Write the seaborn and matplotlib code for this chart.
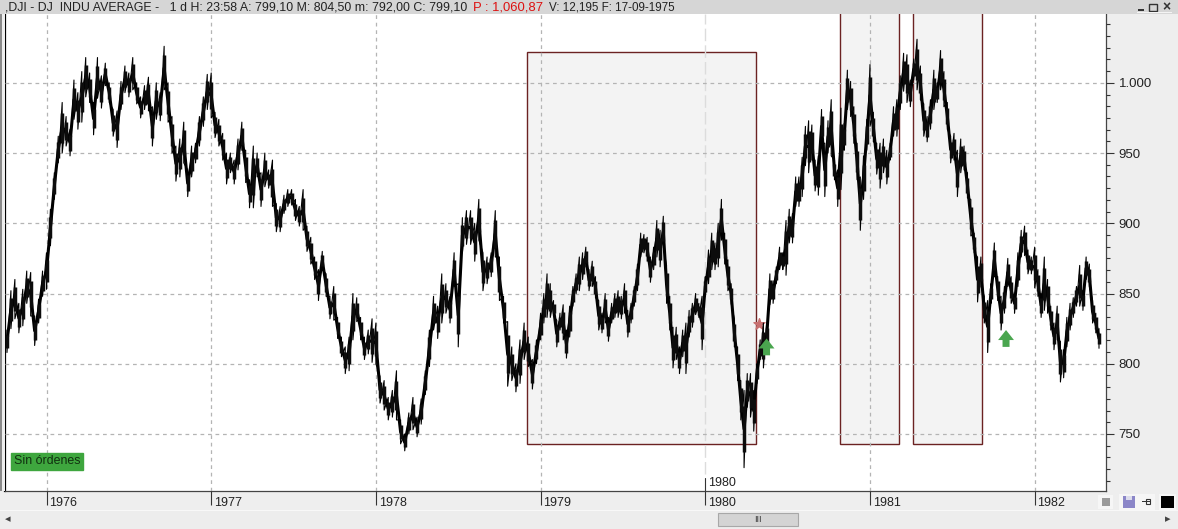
import numpy as np
import pandas as pd
import matplotlib
matplotlib.use("Agg")
import matplotlib.pyplot as plt
import seaborn as sns
from matplotlib.patches import Rectangle
from matplotlib.ticker import AutoMinorLocator
from matplotlib.transforms import ScaledTranslation

# highs and lows, one list per calendar year
high_1975 = [824,852,860,843,853,866,865,834,846,866]
low_1975 = [808,825,832,822,827,843,834,813,829,848]
high_1976 = [879,910,936,962,986,976,967,1002,993,1008,1018,1007,986,1018,1005,1014,1000,981,980,1001,1012,1007,1018,1000,990,998,1004,983,1000,993,1026,1000,976,955,960,972,938,955,957,976,990,1006]
low_1976 = [853,884,917,943,950,955,948,974,967,972,990,986,963,989,982,998,986,962,954,981,993,990,995,985,975,981,980,955,974,973,995,972,950,930,933,943,919,933,943,955,969,981]
high_1977 = [1007,979,974,964,950,950,945,960,972,952,931,955,950,936,950,938,945,914,912,920,924,924,917,912,924,898,890,876,867,880,864,848,855,833,819,812,819,850,847,833,819,824,832]
low_1977 = [975,961,955,945,928,936,928,938,952,929,911,911,933,912,926,925,912,894,894,907,912,913,902,898,895,880,871,860,845,867,848,832,831,818,805,793,795,817,830,817,803,807,801]
high_1978 = [829,791,788,776,781,795,760,750,765,776,762,775,795,824,848,841,864,857,848,879,857,904,909,909,900,917,879,876,879,909,876,848,830,812,800,817,829,819,803,817]
low_1978 = [800,772,767,760,762,760,743,738,750,753,748,757,778,798,824,818,829,836,829,855,812,879,885,885,873,888,852,857,862,876,845,829,784,788,780,786,803,798,782,800]
high_1979 = [836,850,864,857,845,831,836,842,824,841,855,864,876,879,883,867,873,862,845,836,850,833,843,850,852,848,857,838,843,855,871,893,892,890,876,883,902,895,905,870,848,826,826,812,824,829,838,843,850,843,848]
low_1979 = [817,829,833,833,834,812,824,817,804,819,841,850,852,860,869,852,855,847,824,822,829,816,829,833,833,832,836,819,829,841,852,876,879,873,858,867,876,869,883,843,824,797,803,793,805,793,819,826,835,833,810]
high_1980 = [862,881,893,886,900,917,893,874,857,832,812,788,781,793,793,781,800,817,829,829,864,859,869,883,879,902,910,907,933,933,947,969,973,970,945,948,981,957,973,988,945,938,982,971,1009,1001,983,957,933,948,974]
low_1980 = [848,857,867,867,869,888,871,852,843,812,788,760,726,769,762,752,786,803,797,810,842,843,857,867,867,863,886,886,912,912,919,941,936,945,923,920,957,919,950,948,931,912,924,952,981,976,957,931,895,917,952]
high_1981 = [1013,979,957,957,960,952,957,983,988,1005,1021,1020,1002,1017,1031,1012,985,976,988,1009,1000,1023,1008,986,962,964,952,960,955,936,917,893,876,876,848,845,857,886,862,848,855,875,862,850,879,895,898,881,876]
low_1981 = [969,958,935,925,936,928,945,962,962,981,994,986,983,1002,995,988,962,958,967,981,986,995,983,967,943,945,919,936,938,918,891,879,844,855,829,808,843,862,845,824,836,855,843,836,855,876,877,864,864]
high_1982 = [883,867,850,876,860,841,829,841,816,810,833,843,847,855,870,852,876,871,845,836,825]
low_1982 = [854,848,833,838,836,824,810,817,787,790,812,824,833,841,841,838,860,855,829,822,811]

# span of each list in decimal years
year_spans = [(1975.76, 1976.0), (1976.0, 1977.0), (1977.0, 1978.0), (1978.0, 1979.0),
              (1979.0, 1980.0), (1980.0, 1981.0), (1981.0, 1982.0), (1982.0, 1982.41)]
all_highs = [high_1975, high_1976, high_1977, high_1978, high_1979, high_1980, high_1981, high_1982]
all_lows = [low_1975, low_1976, low_1977, low_1978, low_1979, low_1980, low_1981, low_1982]

# shaded boxes: year start, year end, price bottom, price top
box_starts = [1978.917, 1980.818, 1981.261]
box_ends = [1980.308, 1981.176, 1981.680]
box_bottoms = [743, 743, 743]
box_tops = [1022, 1100, 1100]

buy_years = [1980.372, 1981.826]
buy_prices = [812, 818]

year_ticks = [1976, 1977, 1978, 1979, 1980, 1981, 1982]
price_ticks = [750, 800, 850, 900, 950, 1000]
price_labels = ["750", "800", "850", "900", "950", "1.000"]

rows = []
for (start, end), highs, lows in zip(year_spans, all_highs, all_lows):
    xs = np.linspace(start, end, len(highs), endpoint=False)
    for x, h, l in zip(xs, highs, lows):
        rows.append((x, h, l))
df = pd.DataFrame(rows, columns=["year", "high", "low"])
df["mid"] = (df["high"] + df["low"]) / 2
# inner part of each column, the thick candle bodies
df["body_top"] = df["high"] - (df["high"] - df["low"]) * 0.2
df["body_bottom"] = df["low"] + (df["high"] - df["low"]) * 0.2
zigzag = pd.DataFrame({"year": np.repeat(df["year"].values, 2),
                       "price": np.column_stack([df["high"], df["low"]]).ravel()})

sns.set_theme(style="white")
plt.rcParams["font.family"] = ["Liberation Sans", "DejaVu Sans"]

W, H = 1178, 529
fig = plt.figure(figsize=(W / 100, H / 100), dpi=100, facecolor="#eeeeee")
ax = fig.add_axes([5 / W, 1 - 491 / H, 1101 / W, 477 / H])


def chrome(x0, y0, x1, y1, color, **kw):
    # window furniture, given in pixels from the top left
    fig.add_artist(Rectangle((x0 / W, 1 - y1 / H), (x1 - x0) / W, (y1 - y0) / H,
                             transform=fig.transFigure, facecolor=color, edgecolor=kw.pop("ec", "none"),
                             linewidth=kw.pop("lw", 0), **kw))


def label(x, y, s, color="#222222", size=8.6, **kw):
    fig.text(x / W, 1 - y / H, s, color=color, fontsize=size, va="center", **kw)


sns.lineplot(data=zigzag, x="year", y="price", sort=False, estimator=None, color="black",
             linewidth=0.8, ax=ax, zorder=3)
sns.lineplot(data=df, x="year", y="mid", sort=False, estimator=None, color="black",
             linewidth=2.2, ax=ax, zorder=3)
ax.vlines(df["year"], df["body_bottom"], df["body_top"], color="#0c0c0c", linewidth=2.5, zorder=3)

for x0, x1, y0, y1 in zip(box_starts, box_ends, box_bottoms, box_tops):
    ax.add_patch(Rectangle((x0, y0), x1 - x0, y1 - y0, facecolor="#f3f3f3", edgecolor="#6b2222",
                           linewidth=1.0, zorder=0.4))

ax.set_xlim(1975.748, 1982.433)
ax.set_ylim(709.4, 1049)
ax.set_xlabel("")
ax.set_ylabel("")
ax.set_facecolor("white")
ax.set_axisbelow(False)
ax.grid(True, color="#b4b4b4", linestyle=(0, (3, 3)), linewidth=0.9, zorder=1)
for gl in ax.get_xgridlines() + ax.get_ygridlines():
    gl.set_zorder(1)

ax.set_xticks(year_ticks)
ax.set_xticklabels([str(y) for y in year_ticks])
ax.get_xgridlines()[year_ticks.index(1980)].set_visible(False)
ax.tick_params(axis="x", bottom=True, length=10, width=0.8, color="#333333", pad=-6, labelsize=9,
               labelcolor="#222222")
shift = ScaledTranslation(12 / 72, 0, fig.dpi_scale_trans)
for t in ax.get_xticklabels():
    t.set_transform(t.get_transform() + shift)

ax.yaxis.tick_right()
ax.set_yticks(price_ticks)
ax.set_yticklabels(price_labels)
ax.yaxis.set_minor_locator(AutoMinorLocator(6))
ax.tick_params(axis="y", which="major", length=6, width=0.8, color="#333333", pad=3, labelsize=9.5,
               labelcolor="#222222")
ax.tick_params(axis="y", which="minor", length=3, width=0.8, color="#333333", right=True)

ax.spines["top"].set_visible(False)
ax.spines["left"].set_color("black")
ax.spines["left"].set_linewidth(1.6)
ax.spines["right"].set_color("#444444")
ax.spines["bottom"].set_color("#444444")
ax.spines["right"].set_linewidth(0.9)
ax.spines["bottom"].set_linewidth(0.9)

# cursor line and its label
ax.axvline(1980, color="#dcdcdc", linestyle=(0, (9, 3)), linewidth=1.0, zorder=1.2, ymin=0.035)
ax.annotate("1980", (1980, 0), xycoords=ax.get_xaxis_transform(), xytext=(2, 6), textcoords="offset points",
            fontsize=9, color="#222222", va="center", annotation_clip=False)
ax.plot([1980, 1980], [0, 0.028], transform=ax.get_xaxis_transform(), color="#333333", lw=0.8, clip_on=False)

# signals
ax.scatter([1980.326], [828], marker="*", s=70, color="#c77070", zorder=2.5)
for x, y in zip(buy_years, buy_prices):
    ax.annotate("", xy=(x, y + 6), xytext=(x, y - 6),
                arrowprops=dict(arrowstyle="simple,head_width=0.95,head_length=0.6,tail_width=0.42",
                                color="#4aa64f", lw=0, shrinkA=0, shrinkB=0, mutation_scale=12), zorder=4)

ax.text(8.5 / 1101, 1 - (461.5 - 14) / 477, "Sin órdenes", transform=ax.transAxes, fontsize=8.9,
        color="#10300f", va="center", ha="left",
        bbox=dict(facecolor="#3ea63e", edgecolor="#3ea63e", boxstyle="square,pad=0.22"), zorder=5)

# window chrome
chrome(0, 0, W, 14, "#d6d6d6")
chrome(0, 14, 5, 491, "#eeeeee")
chrome(0, 14, 1.5, 491, "#8a8a8a")
chrome(0, 511, W, H, "#ededed")
chrome(0, 510, W, 511, "#f8f8f8")
chrome(718, 513, 798, 526, "#d4d4d4", ec="#a8a8a8", lw=0.8)
label(758, 519, "III", size=6.5, color="#333333", ha="center")
label(8, 519, "◂", size=8, color="#444444", ha="center")
label(1168, 519, "▸", size=8, color="#444444", ha="center")

label(5, 7, ",DJI - DJ  INDU AVERAGE -   1 d H: 23:58 A: 799,10 M: 804,50 m: 792,00 C: 799,10", size=8.9)
label(473, 7, "P : 1,060,87", color="#dd1111", size=9.4)
label(549, 7, "V: 12,195 F: 17-09-1975", size=8.4)

chrome(1138, 9, 1144, 11, "#333333")
chrome(1149, 4, 1157, 11, "none", ec="#333333", lw=1)
label(1166, 7, "×", size=10, color="#333333", ha="center", fontweight="bold")
chrome(1137, 12, 1172, 13, "#f4f4f4")

chrome(1098, 495, 1113, 509, "#f6f6f6")
chrome(1102, 498, 1110, 506, "#9a9a9a")
chrome(1119, 494, 1155, 510, "#f6f6f6")
chrome(1123, 496, 1135, 508, "#8b86c8")
chrome(1126, 496, 1132, 500, "#dcdcec")
chrome(1142, 501, 1150, 502, "#333333")
chrome(1146, 499, 1150, 504, "none", ec="#333333", lw=0.8)
chrome(1159, 494, 1176, 510, "#f6f6f6")
chrome(1161, 496, 1174, 508, "black")

fig.savefig("out.png", dpi=100, facecolor=fig.get_facecolor())
